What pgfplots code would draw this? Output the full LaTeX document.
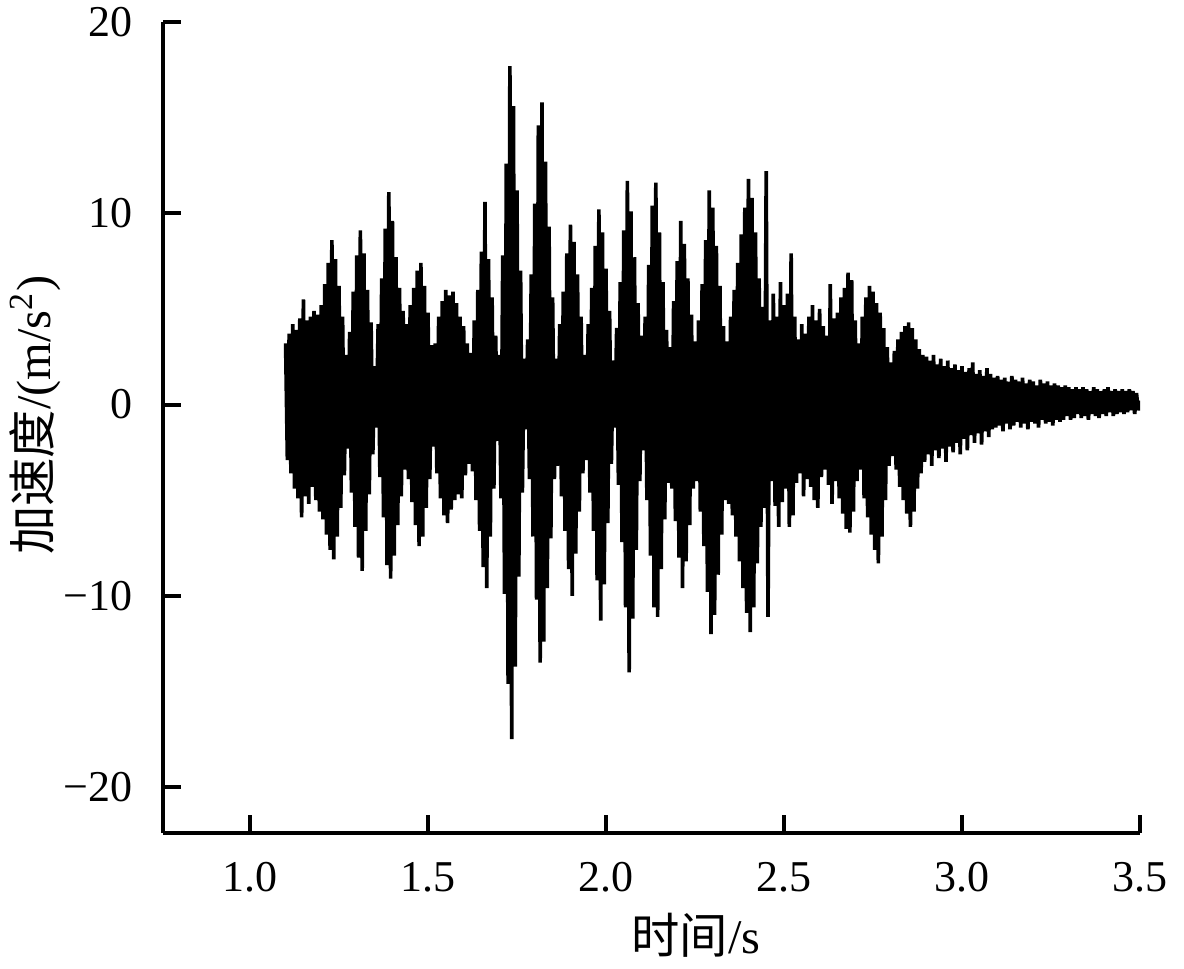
\documentclass[border=0pt]{standalone}
\usepackage{fontspec}
\setmainfont{Liberation Serif}
\newfontfamily\cjk{Noto Sans CJK SC}
\usepackage{pgfplots}
\pgfplotsset{compat=1.18}
\begin{document}
\begin{tikzpicture}
\begin{axis}[
  name=ax,
  scale only axis, width=293.1pt, height=243.3pt,
  xmin=0.7556, xmax=3.5, ymin=-22.405, ymax=20,
  axis x line*=bottom, axis y line*=left,
  axis line style={-, line width=1.2pt, black},
  every outer x axis line/.append style={-},
  every outer y axis line/.append style={-},
  tick align=inside, major tick length=5.4pt,
  tick style={line width=1.2pt, black},
  xtick={1.0,1.5,2.0,2.5,3.0,3.5},
  xticklabels={1.0,1.5,2.0,2.5,3.0,3.5},
  ytick={-20,-10,0,10,20},
  yticklabels={−20,−10,0,10,20},
  tick label style={font=\fontsize{13.2}{15}\selectfont},
  xticklabel style={inner sep=0pt, anchor=north, yshift=-8.7pt},
  yticklabel style={inner sep=0pt, anchor=east, xshift=-9pt},
  label style={font=\fontsize{14.5}{17}\selectfont},
  xlabel={{\cjk 时间}/s},
  ylabel={{\cjk 加速度}/(m/s\textsuperscript{2})},
  xlabel style={at={(axis description cs:0.5455,-0.1258)}, anchor=center},
  ylabel style={at={(axis description cs:-0.131,0.515)}, anchor=center},
]
\addplot[black, line width=1.1pt, line join=bevel] coordinates {
(1.100,3.2)(1.105,-2.9)(1.110,3.7)(1.115,-3.6)(1.120,4.2)(1.125,-4.4)(1.130,3.9)(1.135,-4.9)(1.140,4.5)(1.145,-5.9)
(1.150,5.5)(1.155,-4.8)(1.160,4.4)(1.165,-5.2)(1.170,4.6)(1.175,-4.3)(1.180,4.9)(1.185,-5.0)(1.190,4.7)(1.195,-5.6)
(1.200,5.2)(1.205,-6.0)(1.210,6.3)(1.215,-6.8)(1.220,7.4)(1.225,-7.6)(1.230,8.6)(1.235,-8.1)(1.240,7.6)(1.245,-6.9)
(1.250,6.2)(1.255,-5.4)(1.260,4.6)(1.265,-3.7)(1.270,2.6)(1.275,-2.3)
(1.280,3.8)(1.285,-4.6)(1.290,5.9)(1.295,-6.4)(1.300,7.8)(1.305,-8.0)(1.310,9.1)(1.315,-8.7)(1.320,7.9)(1.325,-6.6)
(1.330,6.0)(1.335,-4.7)(1.340,4.3)(1.345,-2.6)(1.350,2.0)(1.355,-1.2)
(1.360,4.2)(1.365,-3.8)(1.370,6.6)(1.375,-5.9)(1.380,9.2)(1.385,-8.4)(1.390,11.1)(1.395,-9.1)(1.400,9.6)(1.405,-7.9)
(1.410,7.7)(1.415,-6.3)(1.420,6.1)(1.425,-4.8)(1.430,4.9)(1.435,-3.4)
(1.440,4.2)(1.445,-3.9)(1.450,5.2)(1.455,-5.1)(1.460,6.1)(1.465,-6.3)(1.470,7.0)(1.475,-7.4)(1.480,7.4)(1.485,-6.9)
(1.490,6.2)(1.495,-5.4)(1.500,4.8)(1.505,-3.9)(1.510,3.1)(1.515,-2.2)
(1.520,3.2)(1.525,-3.6)(1.530,4.6)(1.535,-4.9)(1.540,5.4)(1.545,-5.8)(1.550,6.0)(1.555,-6.2)(1.560,5.7)(1.565,-5.5)
(1.570,5.9)(1.575,-5.0)(1.580,5.3)(1.585,-4.7)(1.590,4.6)(1.595,-4.9)(1.600,4.1)(1.605,-3.7)(1.610,3.2)(1.615,-3.1)
(1.620,2.7)(1.625,-3.5)(1.630,4.4)(1.635,-5.0)(1.640,6.0)(1.645,-6.6)(1.650,8.0)(1.655,-8.5)(1.660,10.6)(1.665,-9.6)
(1.670,7.6)(1.675,-6.9)(1.680,5.6)(1.685,-4.4)(1.690,3.6)(1.695,-1.9)
(1.700,2.6)(1.705,-4.9)(1.710,7.8)(1.715,-9.9)(1.720,12.6)(1.725,-14.6)(1.730,17.7)(1.735,-17.5)(1.740,15.6)(1.745,-13.7)
(1.750,11.2)(1.755,-9.0)(1.760,7.0)(1.765,-4.6)(1.770,2.4)(1.775,-1.3)
(1.780,3.4)(1.785,-3.9)(1.790,6.8)(1.795,-6.9)(1.800,10.5)(1.805,-10.2)(1.810,14.6)(1.815,-13.5)(1.820,15.8)(1.825,-12.4)
(1.830,12.7)(1.835,-9.6)(1.840,9.3)(1.845,-7.0)(1.850,5.6)(1.855,-3.9)
(1.860,2.4)(1.865,-3.2)(1.870,4.2)(1.875,-4.8)(1.880,5.9)(1.885,-6.6)(1.890,7.9)(1.895,-8.6)(1.900,9.4)(1.905,-10.0)
(1.910,8.5)(1.915,-7.8)(1.920,6.8)(1.925,-5.6)(1.930,4.6)(1.935,-3.6)(1.940,2.6)(1.945,-2.9)
(1.950,4.2)(1.955,-4.6)(1.960,6.1)(1.965,-6.6)(1.970,8.3)(1.975,-9.2)(1.980,10.2)(1.985,-11.3)(1.990,9.0)(1.995,-9.4)
(2.000,7.1)(2.005,-6.2)(2.010,4.9)(2.015,-3.1)(2.020,2.3)(2.025,-1.2)
(2.030,4.0)(2.035,-4.2)(2.040,6.4)(2.045,-7.2)(2.050,9.1)(2.055,-10.6)(2.060,11.7)(2.065,-14.0)(2.070,10.1)(2.075,-11.2)
(2.080,7.7)(2.085,-7.6)(2.090,5.3)(2.095,-4.0)(2.100,3.6)(2.105,-2.4)
(2.110,4.6)(2.115,-5.0)(2.120,7.3)(2.125,-7.9)(2.130,10.4)(2.135,-10.6)(2.140,11.6)(2.145,-11.1)(2.150,9.0)(2.155,-8.6)
(2.160,6.4)(2.165,-6.0)(2.170,3.9)(2.175,-4.1)
(2.180,3.0)(2.185,-4.4)(2.190,5.4)(2.195,-6.1)(2.200,7.5)(2.205,-8.0)(2.210,9.6)(2.215,-9.6)(2.220,8.4)(2.225,-8.2)
(2.230,6.6)(2.235,-6.3)(2.240,4.7)(2.245,-4.4)(2.250,3.3)(2.255,-4.0)
(2.260,4.4)(2.265,-5.6)(2.270,6.3)(2.275,-7.4)(2.280,8.6)(2.285,-9.8)(2.290,11.2)(2.295,-12.0)(2.300,10.3)(2.305,-11.0)
(2.310,8.3)(2.315,-8.9)(2.320,6.2)(2.325,-6.8)(2.330,4.1)(2.335,-5.0)(2.340,3.3)(2.345,-5.2)
(2.350,4.6)(2.355,-5.8)(2.360,6.0)(2.365,-6.9)(2.370,7.4)(2.375,-8.2)(2.380,8.9)(2.385,-9.6)(2.390,10.3)(2.395,-10.9)
(2.400,11.8)(2.405,-11.9)(2.410,10.8)(2.415,-10.6)(2.420,9.0)(2.425,-8.3)(2.430,6.6)(2.435,-6.4)(2.440,5.1)(2.445,-5.4)
(2.450,12.2)(2.455,-11.1)(2.460,4.4)(2.465,-4.0)
(2.470,5.8)(2.475,-5.3)(2.480,4.6)(2.485,-6.4)(2.490,6.4)(2.495,-5.1)(2.500,5.2)(2.505,-4.4)(2.510,5.8)(2.515,-6.4)
(2.520,7.9)(2.525,-5.8)(2.530,4.6)(2.535,-4.1)(2.540,3.4)(2.545,-3.6)(2.550,4.2)(2.555,-4.8)(2.560,3.7)(2.565,-3.9)
(2.570,4.6)(2.575,-4.3)(2.580,5.2)(2.585,-5.0)(2.590,4.4)(2.595,-5.4)(2.600,5.0)(2.605,-3.8)(2.610,4.1)(2.615,-3.4)
(2.620,3.6)(2.625,-4.2)(2.630,6.3)(2.635,-5.2)(2.640,4.5)(2.645,-4.0)
(2.650,4.8)(2.655,-4.9)(2.660,5.6)(2.665,-5.7)(2.670,6.1)(2.675,-6.5)(2.680,6.9)(2.685,-6.7)(2.690,6.5)(2.695,-5.6)
(2.700,4.4)(2.705,-4.0)(2.710,3.2)(2.715,-3.4)
(2.720,4.6)(2.725,-4.9)(2.730,5.6)(2.735,-5.9)(2.740,6.2)(2.745,-6.8)(2.750,5.9)(2.755,-7.6)(2.760,5.3)(2.765,-8.3)
(2.770,4.8)(2.775,-6.9)(2.780,4.0)(2.785,-5.0)(2.790,3.0)(2.795,-3.2)(2.800,2.2)(2.805,-2.7)
(2.810,2.8)(2.815,-3.4)(2.820,3.4)(2.825,-4.3)(2.830,3.8)(2.835,-5.0)(2.840,4.1)(2.845,-5.7)(2.850,4.3)(2.855,-6.4)
(2.860,4.0)(2.865,-5.6)(2.870,3.4)(2.875,-4.4)(2.880,2.9)(2.885,-3.6)(2.890,2.6)(2.895,-3.0)
(2.900,2.5)(2.905,-2.6)(2.910,2.3)(2.915,-3.2)(2.920,2.6)(2.925,-2.4)(2.930,2.1)(2.935,-2.8)(2.940,2.4)(2.945,-2.3)
(2.950,2.0)(2.955,-3.0)(2.960,2.3)(2.965,-2.2)(2.970,1.9)(2.975,-2.5)(2.980,2.1)(2.985,-2.0)(2.990,1.8)(2.995,-2.6)
(3.000,2.0)(3.005,-1.8)(3.010,1.7)(3.015,-2.4)(3.020,1.9)(3.025,-1.6)(3.030,2.2)(3.035,-2.0)(3.040,1.6)(3.045,-1.5)
(3.050,1.8)(3.055,-2.1)(3.060,1.5)(3.065,-1.4)(3.070,1.9)(3.075,-1.7)(3.080,1.6)(3.085,-1.3)(3.090,1.4)(3.095,-1.2)
(3.100,1.5)(3.105,-1.1)(3.110,1.3)(3.115,-1.4)(3.120,1.4)(3.125,-1.0)(3.130,1.2)(3.135,-1.3)(3.140,1.5)(3.145,-1.1)
(3.150,1.3)(3.155,-0.9)(3.160,1.2)(3.165,-1.2)(3.170,1.4)(3.175,-1.0)(3.180,1.1)(3.185,-1.3)(3.190,1.3)(3.195,-0.9)
(3.200,1.2)(3.205,-1.0)(3.210,1.0)(3.215,-1.2)(3.220,1.3)(3.225,-0.8)(3.230,1.1)(3.235,-1.0)(3.240,1.2)(3.245,-0.9)
(3.250,1.0)(3.255,-1.1)(3.260,1.1)(3.265,-0.8)(3.270,1.0)(3.275,-0.9)(3.280,0.9)(3.285,-0.8)(3.290,1.0)(3.295,-0.6)
(3.300,0.9)(3.305,-0.8)(3.310,0.8)(3.315,-0.7)(3.320,0.9)(3.325,-0.5)(3.330,0.8)(3.335,-0.7)(3.340,0.9)(3.345,-0.6)
(3.350,0.8)(3.355,-0.8)(3.360,0.7)(3.365,-0.5)(3.370,0.9)(3.375,-0.6)(3.380,0.8)(3.385,-0.7)(3.390,0.7)(3.395,-0.5)
(3.400,0.8)(3.405,-0.6)(3.410,0.9)(3.415,-0.4)(3.420,0.7)(3.425,-0.6)(3.430,0.8)(3.435,-0.5)(3.440,0.7)(3.445,-0.4)
(3.450,0.8)(3.455,-0.5)(3.460,0.7)(3.465,-0.4)(3.470,0.8)(3.475,-0.3)(3.480,0.7)(3.485,-0.5)(3.490,0.6)(3.495,-0.3)
(3.500,0.2)
};
\end{axis}
\pgfresetboundingbox
\path[use as bounding box] (ax.south west) ++(-48.9pt,-40.5pt) rectangle ++(355.2pt,290.4pt);
\end{tikzpicture}
\end{document}
